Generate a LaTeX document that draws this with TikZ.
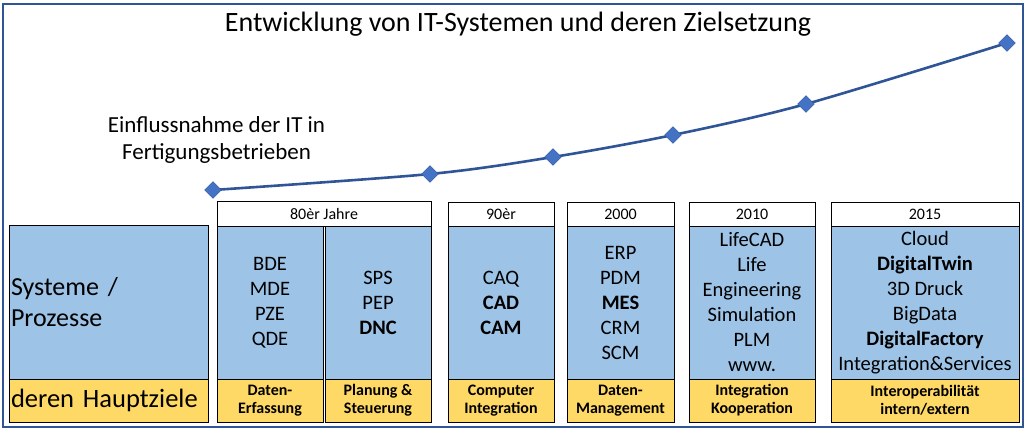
\documentclass[tikz,border=0pt]{standalone}
\usepackage{fontspec}
\setmainfont{Carlito}
\usetikzlibrary{shapes.geometric}
\definecolor{lblue}{HTML}{9DC3E6}
\definecolor{lyellow}{HTML}{FFD966}
\definecolor{curveblue}{HTML}{2F5597}
\definecolor{dmdblue}{HTML}{4472C4}
\tikzset{
  box/.style={draw=black, line width=0.9pt, inner sep=0pt, outer sep=0pt, anchor=north west, align=center},
  bluebox/.style={box, fill=lblue, font=\fontsize{20.5}{25}\selectfont},
  yellowbox/.style={box, fill=lyellow, font=\fontsize{16}{18}\selectfont\bfseries},
  headbox/.style={box, fill=white, font=\fontsize{16}{18}\selectfont},
  dmd/.style={diamond, fill=dmdblue, draw=curveblue, line width=0.4pt, inner sep=0pt, minimum size=17pt},
  curve/.style={draw=curveblue, line width=2.6pt},
  frame/.style={draw=curveblue, line width=1.5pt}
}
\begin{document}
\begin{tikzpicture}[x=1pt,y=-1pt]
\useasboundingbox (0,0) rectangle (1031,432);
\draw[frame] (3,4) rectangle (1023,427);

\node[font=\fontsize{28}{33}\selectfont] (title) at (518,24) {Entwicklung von IT-Systemen und deren Zielsetzung};
\node[font=\fontsize{23}{27}\selectfont, align=center] (label) at (216.5,140) {Einflussnahme der IT in\\Fertigungsbetrieben};

% left column
\node[bluebox, minimum width=199pt, minimum height=154pt, text width=195pt, inner xsep=2pt, align=left, font=\fontsize{26}{31}\selectfont] (b0) at (9,225) {Systeme /\\Prozesse};
\node[yellowbox, minimum width=199pt, minimum height=43pt, text width=195pt, inner xsep=2pt, align=left, font=\fontsize{26.5}{31}\selectfont] (y0) at (9,379) {deren Hauptziele};

% 80er
\node[headbox, minimum width=214pt, minimum height=25pt] (h1) at (217,201) {80èr Jahre};
\node[bluebox, minimum width=106pt, minimum height=153pt] (b1) at (217,226) {BDE\\MDE\\PZE\\QDE};
\node[yellowbox, minimum width=106pt, minimum height=43pt] (y1) at (217,379) {Daten-\\Erfassung};
\node[bluebox, minimum width=106pt, minimum height=153pt] (b2) at (325,226) {SPS\\PEP\\\textbf{DNC}};
\node[yellowbox, minimum width=106pt, minimum height=43pt] (y2) at (325,379) {Planung \&\\Steuerung};

% 90er
\node[headbox, minimum width=106pt, minimum height=24pt] (h3) at (448,202) {90èr};
\node[bluebox, minimum width=106pt, minimum height=153pt] (b3) at (448,226) {CAQ\\\textbf{CAD}\\\textbf{CAM}};
\node[yellowbox, minimum width=106pt, minimum height=43pt] (y3) at (448,379) {Computer\\Integration};

% 2000
\node[headbox, minimum width=107pt, minimum height=24pt] (h4) at (567,202) {2000};
\node[bluebox, minimum width=107pt, minimum height=153pt] (b4) at (567,226) {ERP\\PDM\\\textbf{MES}\\CRM\\SCM};
\node[yellowbox, minimum width=107pt, minimum height=43pt] (y4) at (567,379) {Daten-\\Management};

% 2010
\node[headbox, minimum width=126pt, minimum height=24pt] (h5) at (689,202) {2010};
\node[bluebox, minimum width=126pt, minimum height=153pt] (b5) at (689,226) {LifeCAD\\Life\\Engineering\\Simulation\\PLM\\www.};
\node[yellowbox, minimum width=126pt, minimum height=43pt] (y5) at (689,379) {Integration\\Kooperation};

% 2015
\node[headbox, minimum width=188pt, minimum height=24pt] (h6) at (831,202) {2015};
\node[bluebox, minimum width=188pt, minimum height=153pt] (b6) at (831,226) {Cloud\\\textbf{DigitalTwin}\\3D Druck\\BigData\\\textbf{DigitalFactory}\\Integration\&Services};
\node[yellowbox, minimum width=188pt, minimum height=43pt] (y6) at (831,379) {Interoperabilität\\intern/extern};

% curve
\coordinate (p1) at (213,190);
\coordinate (p2) at (430,174);
\coordinate (p3) at (553,157);
\coordinate (p4) at (673,135);
\coordinate (p5) at (806,104);
\coordinate (p6) at (1007,43);
\draw[curve] plot[smooth, tension=0.5] coordinates {(p1) (p2) (p3) (p4) (p5) (p6)};
\foreach \i in {1,...,6} \node[dmd] (d\i) at (p\i) {};
\end{tikzpicture}
\end{document}
